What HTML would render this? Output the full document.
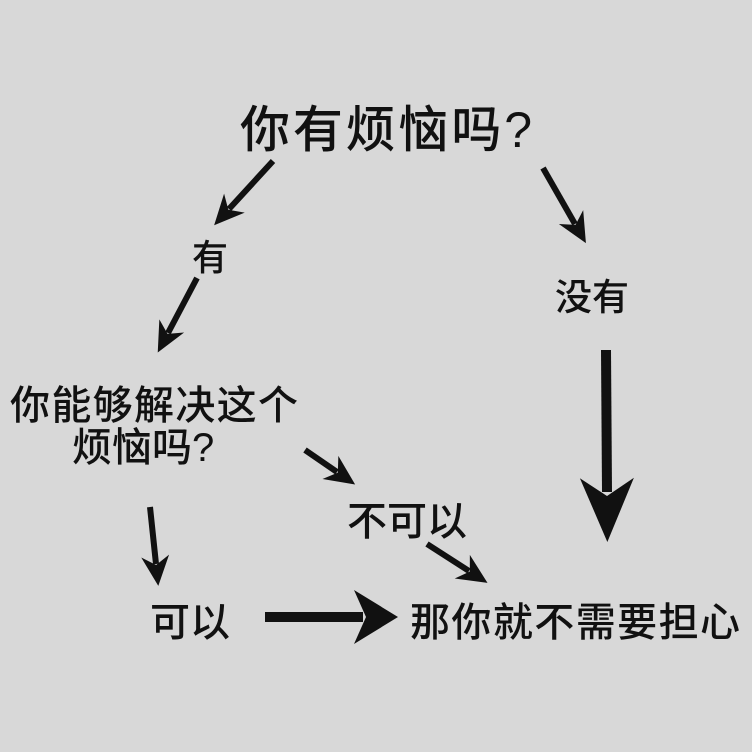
<!DOCTYPE html>
<html><head><meta charset="utf-8"><style>
html,body{margin:0;padding:0;background:#d8d8d8;}
svg{display:block}
text{font-family:"Liberation Sans","Noto Sans CJK SC",sans-serif;fill:#111;font-weight:500}
</style></head><body>
<svg width="752" height="752" viewBox="0 0 752 752" xmlns="http://www.w3.org/2000/svg">
<defs>
<marker id="s" markerUnits="userSpaceOnUse" orient="auto" markerWidth="80" markerHeight="80" overflow="visible">
<path d="M22,0 L-8,14 L1,0 L-8,-14 Z" fill="#111"/></marker>
<marker id="b" markerUnits="userSpaceOnUse" orient="auto" markerWidth="100" markerHeight="100" overflow="visible">
<path d="M50,0 L-14,27 L4,0 L-14,-27 Z" fill="#111"/></marker>
<marker id="h" markerUnits="userSpaceOnUse" orient="auto" markerWidth="100" markerHeight="100" overflow="visible">
<path d="M35,0 L-9,27 L3,0 L-9,-27 Z" fill="#111"/></marker>
</defs>
<g stroke="#111" stroke-width="6" fill="none">
<line x1="273" y1="161" x2="229" y2="209" marker-end="url(#s)"/>
<line x1="197" y1="278" x2="168" y2="333" marker-end="url(#s)"/>
<line x1="543" y1="168" x2="575" y2="224" marker-end="url(#s)"/>
<line x1="305" y1="450" x2="337" y2="472" marker-end="url(#s)"/>
<line x1="150" y1="507" x2="156" y2="564" marker-end="url(#s)"/>
<line x1="427" y1="544" x2="469" y2="571" marker-end="url(#s)"/>
<line x1="606" y1="350" x2="607" y2="492" stroke-width="10" marker-end="url(#b)"/>
<line x1="265" y1="617" x2="363" y2="617" stroke-width="10" marker-end="url(#h)"/>
</g>
<text x="240" y="147" font-size="50" textLength="292">你有烦恼吗?</text>
<text x="210" y="270" font-size="36" text-anchor="middle">有</text>
<text x="592" y="310" font-size="37" text-anchor="middle">没有</text>
<text x="10" y="419" font-size="40" textLength="288">你能够解决这个</text>
<text x="72" y="461" font-size="40">烦恼吗?</text>
<text x="407" y="535" font-size="40" text-anchor="middle">不可以</text>
<text x="190" y="636" font-size="40" text-anchor="middle">可以</text>
<text x="410" y="636" font-size="40" textLength="330">那你就不需要担心</text>
</svg>
</body></html>
